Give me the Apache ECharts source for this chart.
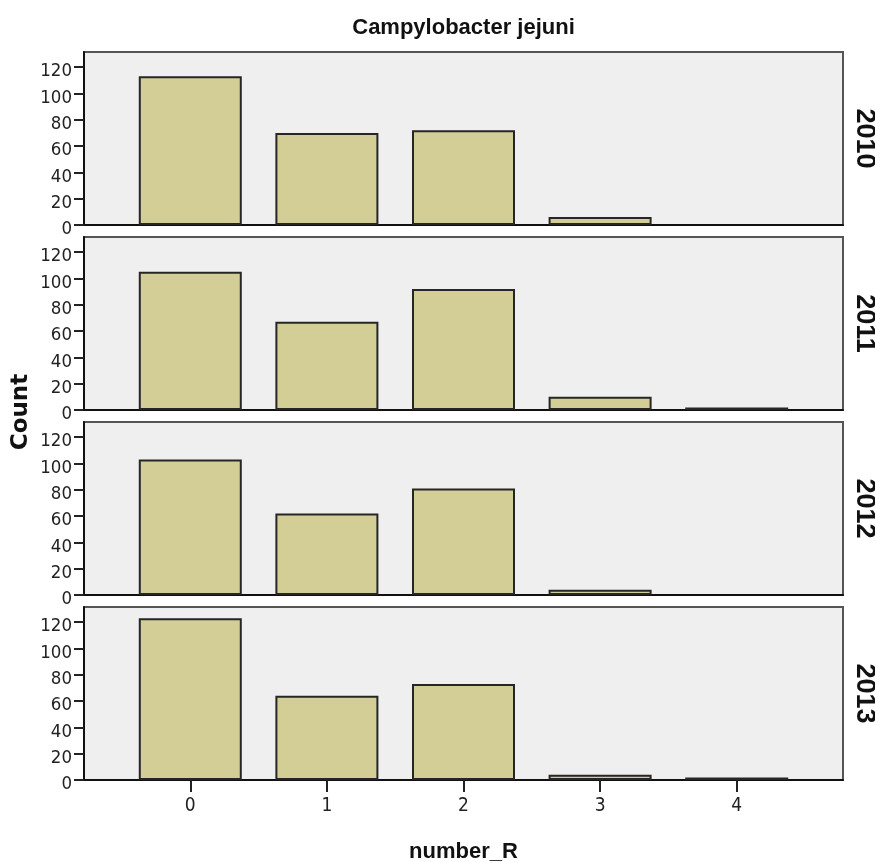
<!DOCTYPE html>
<html>
<head>
<meta charset="utf-8">
<script src="https://cdn.jsdelivr.net/npm/echarts@6/dist/echarts.min.js"></script>
<style>
  html, body { margin: 0; padding: 0; background: #ffffff; }
  #chart { width: 875px; height: 863px; }
</style>
</head>
<body>
<div id="chart"></div>
<script>
// number_R categories on the x axis
const categories = [0, 1, 2, 3, 4];
// one panel per year
const years = ['2010', '2011', '2012', '2013'];
// counts per number_R for each year
const count2010 = [113, 70, 72, 6, 0];
const count2011 = [105, 67, 92, 10, 1];
const count2012 = [103, 62, 81, 4, 0];
const count2013 = [123, 64, 73, 4, 1];
// y tick labels
const yTicks = [0, 20, 40, 60, 80, 100, 120];

const panelCounts = [count2010, count2011, count2012, count2013];

const narrowFont = "'DejaVu Sans Condensed', 'Liberation Sans Narrow', 'Liberation Sans', Arial, sans-serif";
const boldFont = "'Liberation Sans', Arial, sans-serif";

const panelLeft = 84;
const panelWidth = 759;
const panelTops = [52, 237, 422, 607];
const panelHeight = 173;
const yMax = 131.5;

const grid = [], xAxis = [], yAxis = [], series = [];
const rightAxes = [];

panelCounts.forEach((counts, i) => {
  const last = i === panelCounts.length - 1;
  grid.push({
    left: panelLeft, width: panelWidth, top: panelTops[i], height: panelHeight,
    show: true, backgroundColor: '#efefef', borderColor: '#555555', borderWidth: 2,
    containLabel: false, outerBoundsMode: 'none'
  });
  xAxis.push({
    type: 'value', gridIndex: i, min: -0.778, max: 4.778,
    splitLine: { show: false },
    axisLine: { show: true, onZero: false, lineStyle: { color: '#111', width: 2 } },
    axisTick: { show: last, length: 12, lineStyle: { color: '#222', width: 2 }, customValues: categories },
    axisLabel: { show: last, customValues: categories, fontFamily: narrowFont, fontSize: 19, color: '#222', margin: 17 },
    name: last ? 'number_R' : '',
    nameLocation: 'middle', nameGap: 61,
    nameTextStyle: { fontFamily: boldFont, fontWeight: 'bold', fontSize: 22, color: '#111' }
  });
  yAxis.push({
    type: 'value', gridIndex: i, min: 0, max: yMax, position: 'left',
    splitLine: { show: false },
    axisLine: { show: true, onZero: false, lineStyle: { color: '#111', width: 2 } },
    axisTick: { show: true, length: 10, lineStyle: { color: '#222', width: 2 }, customValues: yTicks },
    axisLabel: {
      customValues: yTicks, margin: 12,
      formatter: v => '{t|' + v + '}',
      rich: { t: { fontFamily: narrowFont, fontSize: 18.5, color: '#222', padding: [9, 0, 0, 0] } }
    }
  });
  rightAxes.push({
    type: 'value', gridIndex: i, min: 0, max: yMax, position: 'right',
    axisLine: { show: false }, axisTick: { show: false }, axisLabel: { show: false }, splitLine: { show: false },
    name: years[i], nameLocation: 'middle', nameRotate: -90, nameGap: 8,
    nameTextStyle: { fontFamily: boldFont, fontWeight: 'bold', fontSize: 27, color: '#111' }
  });
  series.push({
    type: 'bar', xAxisIndex: i, yAxisIndex: i,
    barWidth: 103,
    barMinHeight: 2.5,
    data: categories.map((c, j) => [c, counts[j]]).filter(d => d[1] > 0),
    itemStyle: { color: '#d3cd96', borderColor: '#262626', borderWidth: 2 },
    silent: true, animation: false
  });
});

const chart = echarts.init(document.getElementById('chart'), null, { renderer: 'canvas' });
chart.setOption({
  animation: false,
  backgroundColor: '#ffffff',
  grid: grid,
  xAxis: xAxis,
  yAxis: yAxis.concat(rightAxes),
  series: series,
  graphic: [
    {
      type: 'text', x: 463.5, y: 28,
      style: { text: 'Campylobacter jejuni', textAlign: 'center', textVerticalAlign: 'middle', align: 'center', verticalAlign: 'middle',
               fontFamily: boldFont, fontWeight: 'bold', fontSize: 22, fill: '#111' }
    },
    {
      type: 'text', x: 21, y: 412, rotation: Math.PI / 2,
      style: { text: 'Count', textAlign: 'center', textVerticalAlign: 'middle', align: 'center', verticalAlign: 'middle',
               fontFamily: "'DejaVu Sans', sans-serif", fontWeight: 'bold', fontSize: 23, fill: '#111' }
    }
  ]
});
</script>
</body>
</html>
